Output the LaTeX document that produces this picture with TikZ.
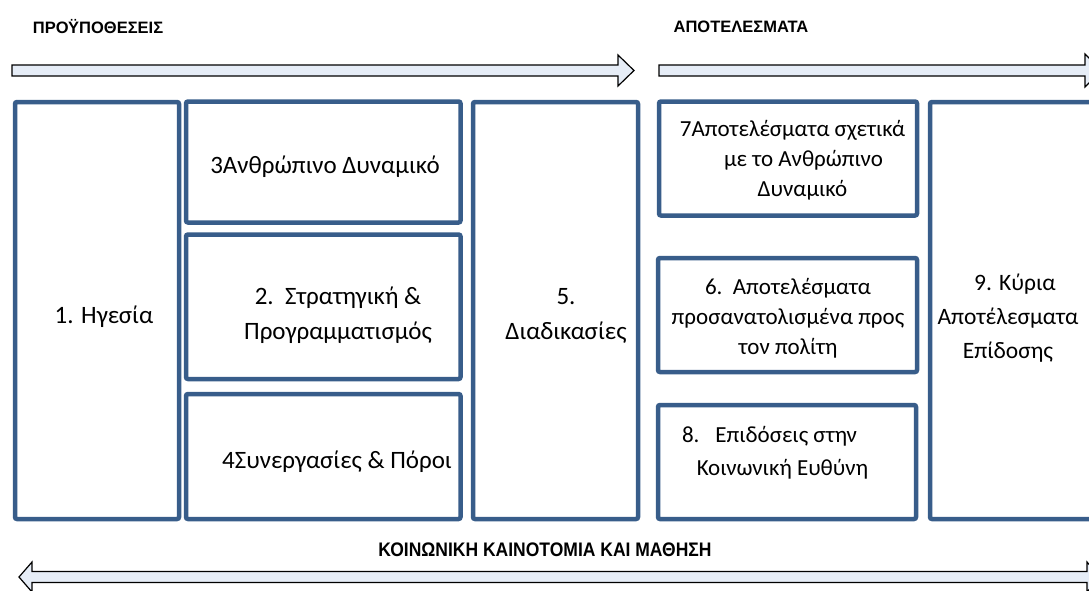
\documentclass[tikz,border=0pt]{standalone}
\usepackage{fontspec}
\setmainfont{Carlito}
\newfontfamily\hdrfont{Liberation Sans}
\usepackage{tikz}
\usetikzlibrary{positioning}

\definecolor{boxblue}{RGB}{56,93,138}
\definecolor{arrfill}{RGB}{230,237,247}

\begin{document}
\begin{tikzpicture}[
    x=1pt, y=-1pt,
    box/.style={draw=boxblue, line width=4.5pt, rounded corners=2pt, fill=white, inner sep=0pt},
    txt/.style={align=center, font=\fontsize{25}{35}\selectfont, inner sep=0pt},
    restxt/.style={txt, font=\fontsize{23}{30}\selectfont},
    hdr/.style={font=\hdrfont\bfseries\fontsize{16.5}{18}\selectfont, inner sep=0pt},
    flow/.style={draw=black, line width=1.2pt, fill=arrfill, line join=miter}
]
\useasboundingbox (0,0) rectangle (1089,590);
\clip (0,0) rectangle (1089,590);

% headers
\node[hdr] (pre) at (98,27) {ΠΡΟΫΠΟΘΕΣΕΙΣ};
\node[hdr] (res) at (741,27) {ΑΠΟΤΕΛΕΣΜΑΤΑ};
\node[hdr, font=\hdrfont\bfseries\fontsize{17.5}{19}\selectfont] (learn) at (545,550) {\scalebox{1}[1.12]{ΚΟΙΝΩΝΙΚΗ ΚΑΙΝΟΤΟΜΙΑ ΚΑΙ ΜΑΘΗΣΗ}};

% flow arrows
\draw[flow] (12,65) -- (618,65) -- (618,55) -- (634,70.5) -- (618,86) -- (618,76) -- (12,76) -- cycle;
\draw[flow] (659,65) -- (1085,65) -- (1085,54) -- (1101,70.5) -- (1085,87) -- (1085,76) -- (659,76) -- cycle;
\draw[flow] (19,577) -- (32,562) -- (32,571.5) -- (1087,571.5) -- (1087,562) -- (1100,577)
    -- (1087,592) -- (1087,582.5) -- (32,582.5) -- (32,592) -- cycle;

% enablers
\node[box, minimum width=164pt, minimum height=417pt] (lead) at (97,310.5) {};
\node[box, minimum width=274.5pt, minimum height=121pt] (people) at (323.25,162) {};
\node[box, minimum width=274.5pt, minimum height=144.5pt] (strat) at (323.25,306.75) {};
\node[box, minimum width=274.5pt, minimum height=125pt] (partner) at (323.25,456.5) {};
\node[box, minimum width=165pt, minimum height=417pt] (proc) at (555.5,310.5) {};

% results
\node[box, minimum width=258pt, minimum height=114pt] (peopleres) at (788,158.5) {};
\node[box, minimum width=259pt, minimum height=114pt] (citres) at (787.5,315) {};
\node[box, minimum width=258pt, minimum height=114pt] (socres) at (787,462) {};
\node[box, minimum width=170pt, minimum height=417pt] (keyres) at (1015,310.5) {};

% texts
\node[txt] (tlead) at (104,317) {1. Ηγεσία};
\node[txt] (tpeople) at (325,167) {3Ανθρώπινο Δυναμικό};
\node[txt] (tstrat) at (338,315) {2.\ \ Στρατηγική \&\\Προγραμματισμός};
\node[txt] (tpartner) at (337,462) {4Συνεργασίες \& Πόροι};
\node[txt] (tproc) at (566,316) {5.\\Διαδικασίες};
\node[restxt] (tpeopleres) at (792.5,160) {7Αποτελέσματα σχετικά\\\hspace*{22pt}με το Ανθρώπινο\\\hspace*{20pt}Δυναμικό};
\node[restxt] (tcitres) at (788,318) {6.\ \ Αποτελέσματα\\προσανατολισμένα προς\\τον πολίτη};
\node[restxt, font=\fontsize{23}{33}\selectfont] (tsocres) at (769.5,453) {8.\hspace{16pt}Επιδόσεις στην\\\hspace*{26pt}Κοινωνική Ευθύνη};
\node[restxt, font=\fontsize{23.5}{34}\selectfont] (tkeyres) at (1008,318) {\hspace*{14pt}9. Κύρια\\Αποτέλεσματα\\Επίδοσης};
\end{tikzpicture}
\end{document}
